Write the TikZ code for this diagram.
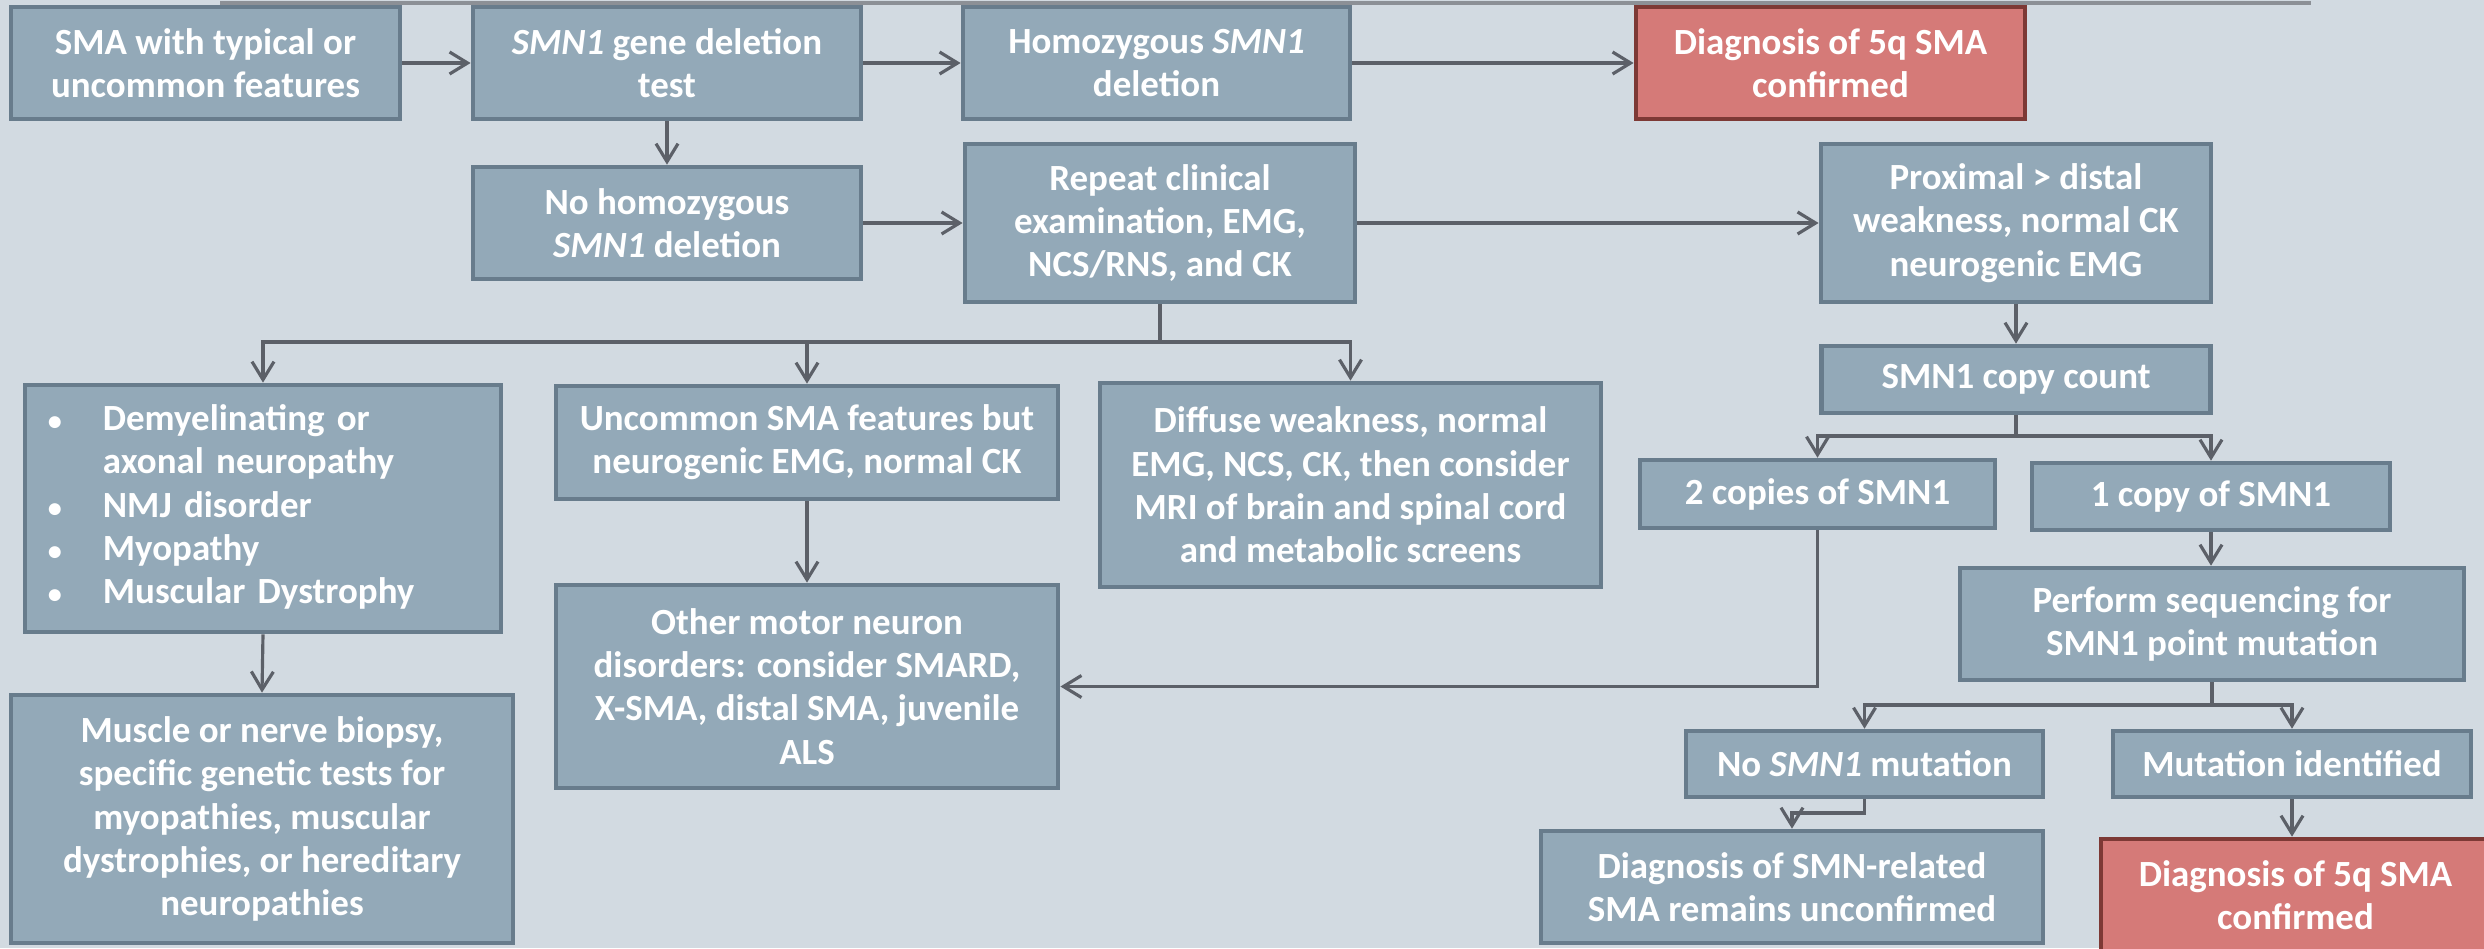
\documentclass[tikz,border=0pt]{standalone}
\usepackage{fontspec}
\setmainfont{Carlito}
\usetikzlibrary{arrows.meta, positioning, calc}
\definecolor{pageBg}{HTML}{D2DAE1}
\definecolor{boxFill}{HTML}{93A9B8}
\definecolor{boxEdge}{HTML}{687C8C}
\definecolor{redFill}{HTML}{D57A78}
\definecolor{redEdge}{HTML}{7D3935}
\definecolor{linkGrey}{HTML}{5C6068}
\definecolor{ruleGrey}{HTML}{8C9096}
\newcommand{\flowfont}{\fontsize{10.5}{12.3}\selectfont\bfseries}
\newcommand{\smallbullet}{{\fontsize{8}{8}\selectfont\textbullet}}

\begin{document}
\begin{tikzpicture}[x=0.01cm, y=-0.01cm,
    flowbox/.style={draw=boxEdge, fill=boxFill, line width=1.3pt,
                    text=white, font=\flowfont, align=center, inner sep=2pt},
    redbox/.style={flowbox, draw=redEdge, fill=redFill},
    link/.style={draw=linkGrey, line width=0.9pt,
                 -{Straight Barb[length=1.8mm, width=2.2mm]}}]

    % ==========================================================
    % 1. PAGE (background + fixed frame)
    % ==========================================================
    \fill[pageBg] (0,0) rectangle (2484,948);
    \useasboundingbox (0,0) rectangle (2484,948);
    \coordinate (ruleL) at (220,3);
    \coordinate (ruleR) at (2311,3);
    \draw[ruleGrey, line width=1pt] (ruleL) -- (ruleR);

    % ==========================================================
    % 2. TOP ROW
    % ==========================================================
    \node[flowbox, minimum width=3.89cm, minimum height=1.12cm] (start)
        at (205.5,63) {SMA with typical or\\uncommon features};
    \node[flowbox, minimum width=3.88cm, minimum height=1.12cm] (deltest)
        at (667,63) {\textit{SMN1} gene deletion\\test};
    \node[flowbox, minimum width=3.87cm, minimum height=1.12cm] (homdel)
        at (1156.5,63) {Homozygous \textit{SMN1}\\deletion};
    \node[redbox, minimum width=3.89cm, minimum height=1.12cm] (diagTop)
        at (1830.5,63) {Diagnosis of 5q SMA\\confirmed};

    % ==========================================================
    % 3. SECOND ROW
    % ==========================================================
    \node[flowbox, minimum width=3.88cm, minimum height=1.12cm] (nohomdel)
        at (667,223) {No homozygous\\\textit{SMN1} deletion};
    \node[flowbox, minimum width=3.90cm, minimum height=1.58cm] (repeat)
        at (1160,223) {Repeat clinical\\examination, EMG,\\NCS/RNS, and CK};
    \node[flowbox, minimum width=3.90cm, minimum height=1.58cm] (proximal)
        at (2016,223) {Proximal > distal\\weakness, normal CK\\neurogenic EMG};

    % ==========================================================
    % 4. LEFT BRANCHES (after repeat examination)
    % ==========================================================
    \node[flowbox, minimum width=4.76cm, minimum height=2.47cm,
          text width=4.3cm, align=left] (neuro) at (263,508.5)
        {\renewcommand{\arraystretch}{1.0}%
         \begin{tabular}{@{}p{0.55cm}@{}l@{}}
         \smallbullet & Demyelinating or\\
                      & axonal neuropathy\\
         \smallbullet & NMJ disorder\\
         \smallbullet & Myopathy\\
         \smallbullet & Muscular Dystrophy
         \end{tabular}};
    \node[flowbox, minimum width=5.02cm, minimum height=1.13cm] (uncommon)
        at (807,442.5) {Uncommon SMA features but\\neurogenic EMG, normal CK};
    \node[flowbox, minimum width=5.01cm, minimum height=2.04cm] (diffuse)
        at (1350.5,485) {Diffuse weakness, normal\\EMG, NCS, CK, then consider\\
                         MRI of brain and spinal cord\\and metabolic screens};
    \node[flowbox, minimum width=5.02cm, minimum height=2.03cm] (othermn)
        at (807,686.5) {Other motor neuron\\disorders: consider SMARD,\\
                        X-SMA, distal SMA, juvenile\\ALS};
    \node[flowbox, minimum width=5.02cm, minimum height=2.48cm] (biopsy)
        at (262,819) {Muscle or nerve biopsy,\\specific genetic tests for\\
                      myopathies, muscular\\dystrophies, or hereditary\\neuropathies};

    % ==========================================================
    % 5. RIGHT BRANCHES (copy count + sequencing)
    % ==========================================================
    \node[flowbox, minimum width=3.89cm, minimum height=0.67cm] (copycount)
        at (2016,379.5) {SMN1 copy count};
    \node[flowbox, minimum width=3.55cm, minimum height=0.68cm] (twocopies)
        at (1817.5,494) {2 copies of SMN1};
    \node[flowbox, minimum width=3.58cm, minimum height=0.67cm] (onecopy)
        at (2211,496.5) {1 copy of SMN1};
    \node[flowbox, minimum width=5.04cm, minimum height=1.12cm] (sequencing)
        at (2212,624) {Perform sequencing for\\SMN1 point mutation};
    \node[flowbox, minimum width=3.57cm, minimum height=0.66cm] (nomut)
        at (1864.5,764) {No \textit{SMN1} mutation};
    \node[flowbox, minimum width=3.58cm, minimum height=0.66cm] (mutid)
        at (2292,764) {Mutation identified};
    \node[flowbox, minimum width=5.02cm, minimum height=1.12cm] (unconfirmed)
        at (1792,887) {Diagnosis of SMN-related\\SMA remains unconfirmed};
    \node[redbox, minimum width=3.89cm, minimum height=1.12cm] (diagBot)
        at (2295.5,895) {Diagnosis of 5q SMA\\confirmed};

    % ==========================================================
    % 6. CONNECTORS
    % ==========================================================
    \coordinate (busA) at (0,342);
    \coordinate (busB) at (0,436);
    \coordinate (busC) at (0,705);
    \coordinate (busD) at (0,813);

    \draw[link] (start.east) -- (deltest.west);
    \draw[link] (deltest.east) -- (homdel.west);
    \draw[link] (homdel.east) -- (diagTop.west);
    \draw[link] (deltest.south) -- (nohomdel.north);
    \draw[link] (nohomdel.east) -- (repeat.west);
    \draw[link] (repeat.east) -- (proximal.west);

    % fan-out below repeat examination
    \draw[link] (repeat.south) -- (repeat.south |- busA) -| (neuro.north);
    \draw[link] (repeat.south |- busA) -| (uncommon.north);
    \draw[link] (repeat.south |- busA) -| (diffuse.north);
    \draw[link] (neuro.south) -- (biopsy.north);
    \draw[link] (uncommon.south) -- (othermn.north);

    % right column
    \draw[link] (proximal.south) -- (copycount.north);
    \draw[link] (copycount.south) -- (copycount.south |- busB) -| (twocopies.north);
    \draw[link] (copycount.south |- busB) -| (onecopy.north);
    \draw[link] (twocopies.south) |- (othermn.east);
    \draw[link] (onecopy.south) -- (sequencing.north -| onecopy.south);
    \draw[link] (sequencing.south) -- (sequencing.south |- busC) -| (nomut.north);
    \draw[link] (sequencing.south |- busC) -| (mutid.north);
    \draw[link] (nomut.south) -- (nomut.south |- busD) -| (unconfirmed.north);
    \draw[link] (mutid.south) -- (mutid.south |- diagBot.north);

\end{tikzpicture}
\end{document}
